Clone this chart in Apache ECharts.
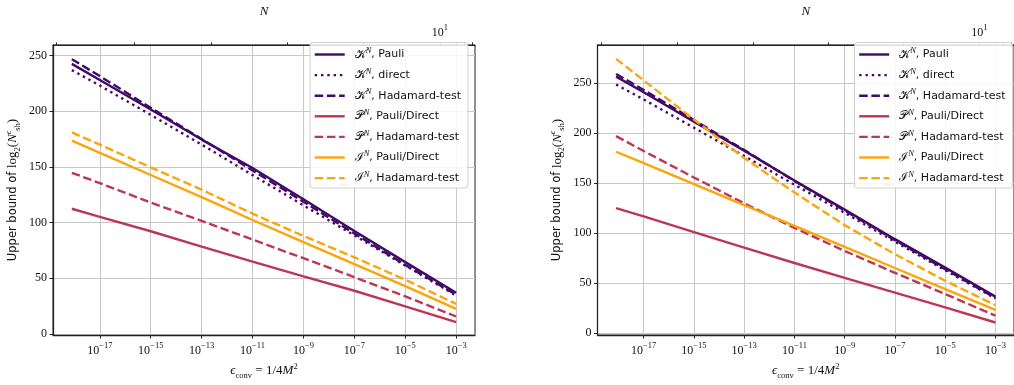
<!DOCTYPE html>
<html><head><meta charset="utf-8">
<script src="https://cdn.jsdelivr.net/npm/echarts@6/dist/echarts.min.js"></script>
<style>html,body{margin:0;padding:0;background:#fff}#c{width:1014px;height:385px}</style>
</head><body><div id="c"></div>
<script>
// log10(epsilon_conv) sample points
const logEps = [-18.1, -17, -15, -13, -11, -9, -7, -5, -3];
const xTickExps = [-17, -15, -13, -11, -9, -7, -5, -3];
const yTickValues = [0, 50, 100, 150, 200, 250];
// top N axis tick positions (in log10 eps) and the 10^1 label position
const topTickExps = [-18.7, -15.66, -12.64, -9.64, -6.65, -3.64, -3.0, -2.7, -2.37];
const topLabelExps = [-3.64];

// Left panel
const L_K_pauli   = [242.5, 228, 201.5, 174.5, 149, 121, 92.5, 64.5, 37];
const L_K_direct  = [236.9, 223, 196.7, 170, 142.7, 115.5, 88.5, 61.5, 34.5];
const L_K_hadam   = [246.7, 231.5, 203, 175, 146.8, 118.7, 90.2, 62, 35.3];
const L_P_pauli   = [112.4, 105.2, 92.2, 78.5, 64.9, 51.8, 38.8, 24.7, 10.7];
const L_P_hadam   = [144.7, 135.4, 118, 101.5, 84.8, 68, 51, 33.8, 15.7];
const L_I_pauli   = [173.6, 162.6, 142.7, 122.8, 102.3, 82.5, 62.7, 43, 22.5];
const L_I_hadam   = [180.9, 170, 149.6, 129.5, 108, 88, 68.8, 48.7, 27];

// Right panel
const R_K_pauli   = [256.3, 240.7, 211.2, 182.4, 152.5, 123.5, 94, 65.6, 36.6];
const R_K_direct  = [248.4, 233.5, 205.3, 177, 148.4, 120.2, 91.5, 63, 34.8];
const R_K_hadam   = [259, 243, 213, 183, 152, 122.5, 93, 64, 35.3];
const R_P_pauli   = [125, 116.8, 101, 85.5, 70.2, 55.4, 40.6, 25.8, 10.8];
const R_P_hadam   = [196.9, 182, 155.6, 129.8, 105.2, 82.2, 60.4, 39.2, 17.6];
const R_I_pauli   = [181.3, 170, 149, 128, 107.2, 86.2, 65.2, 44.2, 23.4];
const R_I_hadam   = [274, 252.5, 213.5, 175, 140.6, 108, 79, 52.5, 28.1];

const seriesKeys = ['K_pauli','K_direct','K_hadam','P_pauli','P_hadam','I_pauli','I_hadam'];
const legendLabels = {
  K_pauli: ['𝒦', ', Pauli'],
  K_direct: ['𝒦', ', direct'],
  K_hadam: ['𝒦', ', Hadamard-test'],
  P_pauli: ['𝒫', ', Pauli/Direct'],
  P_hadam: ['𝒫', ', Hadamard-test'],
  I_pauli: ['ℐ', ', Pauli/Direct'],
  I_hadam: ['ℐ', ', Hadamard-test']
};
const leftData = [L_K_pauli, L_K_direct, L_K_hadam, L_P_pauli, L_P_hadam, L_I_pauli, L_I_hadam];
const rightData = [R_K_pauli, R_K_direct, R_K_hadam, R_P_pauli, R_P_hadam, R_I_pauli, R_I_hadam];

const PURPLE = '#420a68', RED = '#bc3754', ORANGE = '#fca50a';
const LW = 2.4;
const DASH = [8.5, 3.7], DOT = [2.4, 3.9];
const styleOf = {
  K_pauli: [PURPLE, 'solid'], K_direct: [PURPLE, DOT], K_hadam: [PURPLE, DASH],
  P_pauli: [RED, 'solid'], P_hadam: [RED, DASH],
  I_pauli: [ORANGE, 'solid'], I_hadam: [ORANGE, DASH]
};

const SERIF = 'Liberation Serif';
const SANS = 'DejaVu Sans';
const tickRich = {
  b: {fontFamily: SERIF, fontSize: 12, color: '#111', lineHeight: 16, verticalAlign: 'bottom'},
  s: {fontFamily: SERIF, fontSize: 8.5, color: '#111', verticalAlign: 'top', lineHeight: 16}
};

function makeSeries(dataArr, xi) {
  return seriesKeys.map((k, i) => ({
    name: k, type: 'line', xAxisIndex: xi, yAxisIndex: xi / 2,
    symbol: 'none', animation: false, silent: true,
    lineStyle: {color: styleOf[k][0], width: LW, type: styleOf[k][1], cap: 'butt'},
    itemStyle: {color: styleOf[k][0]},
    data: logEps.map((e, j) => [e, dataArr[i][j]])
  }));
}

const XMIN = -18.84, XMAX = -2.26;
function bottomX(gi) {
  return {
    gridIndex: gi, type: 'value', position: 'bottom', min: XMIN, max: XMAX,
    axisLine: {show: true, onZero: false, lineStyle: {color: '#222', width: 1.3}},
    axisTick: {show: true, customValues: xTickExps, length: 3.5, lineStyle: {color: '#222'}},
    axisLabel: {customValues: xTickExps, margin: 6, formatter: v => '{b|10}{s|−' + Math.round(Math.abs(v)) + '}', rich: tickRich},
    splitLine: {show: true, lineStyle: {color: '#c8c8c8', width: 1}},
    name: '{e|ϵ}{sub|conv}{r| = 1/4}{e|M}{sup|2}', nameLocation: 'middle', nameGap: 25,
    nameTextStyle: {rich: {
      e: {fontFamily: SERIF, fontStyle: 'italic', fontSize: 13, color: '#111', lineHeight: 18, verticalAlign: 'middle'},
      r: {fontFamily: SERIF, fontSize: 13, color: '#111', lineHeight: 18},
      sub: {fontFamily: SERIF, fontSize: 8.5, color: '#111', verticalAlign: 'bottom', lineHeight: 18},
      sup: {fontFamily: SERIF, fontSize: 8.5, color: '#111', verticalAlign: 'top', lineHeight: 18}
    }}
  };
}
function topX(gi) {
  return {
    gridIndex: gi, type: 'value', position: 'top', min: XMIN, max: XMAX,
    axisLine: {show: true, onZero: false, lineStyle: {color: '#222', width: 1}},
    axisTick: {show: true, customValues: topTickExps, length: 2.5, lineStyle: {color: '#222'}},
    axisLabel: {customValues: topLabelExps, margin: 6, formatter: () => '{b|10}{s|1}', rich: tickRich},
    splitLine: {show: false},
    name: 'N', nameLocation: 'middle', nameGap: 26,
    nameTextStyle: {fontFamily: SERIF, fontStyle: 'italic', fontSize: 13, color: '#111'}
  };
}
function leftY(gi, min, max) {
  return {
    gridIndex: gi, type: 'value', min: min, max: max,
    axisLine: {show: true, onZero: false, lineStyle: {color: '#222', width: 1.3}},
    axisTick: {show: true, customValues: yTickValues, length: 3.5, lineStyle: {color: '#222'}},
    axisLabel: {customValues: yTickValues, margin: 6, fontFamily: SERIF, fontSize: 12, color: '#111'},
    splitLine: {show: true, lineStyle: {color: '#c8c8c8', width: 1}},
    name: '{t|Upper bound of }{r|log}{sub|2}{r|(}{i|N}{sup|ϵ}{sub|sh}{r|)}',
    nameLocation: 'middle', nameGap: 31, nameRotate: 90,
    nameTextStyle: {rich: {
      t: {fontFamily: SANS, fontSize: 11.5, color: '#111', lineHeight: 18},
      r: {fontFamily: SERIF, fontSize: 13, color: '#111', lineHeight: 18},
      i: {fontFamily: SERIF, fontStyle: 'italic', fontSize: 13, color: '#111', lineHeight: 18},
      sub: {fontFamily: SERIF, fontSize: 8.5, color: '#111', verticalAlign: 'bottom', lineHeight: 18},
      sup: {fontFamily: SERIF, fontStyle: 'italic', fontSize: 8.5, color: '#111', verticalAlign: 'top', lineHeight: 18}
    }}
  };
}
function legendAt(left) {
  return {
    left: left, top: 42.5, orient: 'vertical', itemWidth: 30, itemHeight: 14, itemGap: 6.6,
    padding: [4, 7, 4, 3.5], backgroundColor: 'rgba(255,255,255,0.85)',
    borderColor: '#d0d0d0', borderWidth: 1, borderRadius: 3,
    data: seriesKeys, selectedMode: false,
    itemStyle: {opacity: 0},
    lineStyle: {width: LW},
    formatter: n => '{m|' + legendLabels[n][0] + '}{sup|N}{t|' + legendLabels[n][1] + '}',
    textStyle: {padding: [0, 0, 0, 5], rich: {
      m: {fontFamily: 'DejaVu Serif', fontSize: 12, color: '#111', lineHeight: 16},
      sup: {fontFamily: SERIF, fontStyle: 'italic', fontSize: 8.5, color: '#111', verticalAlign: 'top', lineHeight: 16},
      t: {fontFamily: SANS, fontSize: 11, color: '#111', lineHeight: 16}
    }}
  };
}

const chart = echarts.init(document.getElementById('c'), null, {renderer: 'canvas'});
chart.setOption({
  animation: false,
  backgroundColor: '#fff',
  grid: [
    {left: 53, top: 34, width: 422, height: 309, show: true, borderColor: '#222', borderWidth: 1},
    {left: 597.5, top: 34, width: 422, height: 309, show: true, borderColor: '#222', borderWidth: 1}
  ],
  xAxis: [bottomX(0), topX(0), bottomX(1), topX(1)],
  yAxis: [leftY(0, -1, 259.5), leftY(1, -1.8, 288)],
  legend: [legendAt(310), legendAt(854.5)],
  series: makeSeries(leftData, 0).concat(makeSeries(rightData, 2))
});
</script></body></html>
